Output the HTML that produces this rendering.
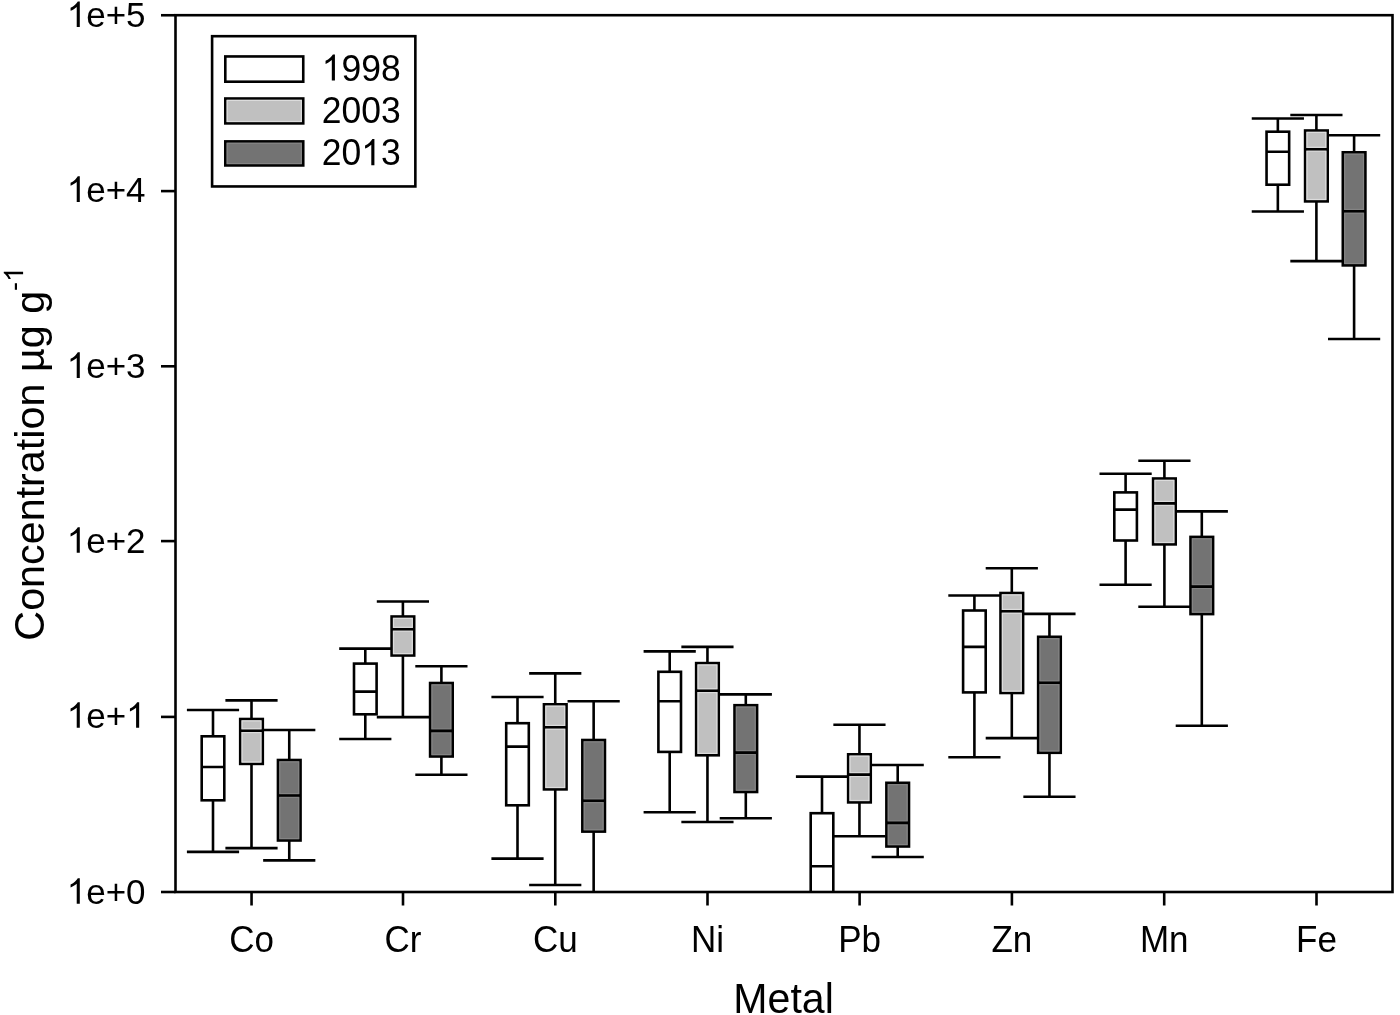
<!DOCTYPE html>
<html><head><meta charset="utf-8"><style>
html,body{margin:0;padding:0;background:#fff;}
body{width:1400px;height:1015px;overflow:hidden;}
svg{display:block;filter:grayscale(1);}
text{font-family:"Liberation Sans",sans-serif;fill:#000;}
</style></head><body>
<svg width="1400" height="1015" viewBox="0 0 1400 1015">
<defs><clipPath id="pc"><rect x="175.5" y="15.2" width="1217" height="876.8"/></clipPath></defs>
<rect width="1400" height="1015" fill="#fff"/>
<g clip-path="url(#pc)" stroke="#000" stroke-width="2.6" fill="none">
<line x1="213" y1="710" x2="213" y2="736.3"/>
<line x1="213" y1="800.3" x2="213" y2="851.9"/>
<line x1="186.9" y1="710" x2="239.1" y2="710"/>
<line x1="186.9" y1="851.9" x2="239.1" y2="851.9"/>
<rect x="201.7" y="736.3" width="22.6" height="64" fill="#ffffff"/>
<line x1="201.7" y1="767" x2="224.3" y2="767"/>
<line x1="251.5" y1="700.4" x2="251.5" y2="719"/>
<line x1="251.5" y1="763.9" x2="251.5" y2="848.1"/>
<line x1="225.4" y1="700.4" x2="277.6" y2="700.4"/>
<line x1="225.4" y1="848.1" x2="277.6" y2="848.1"/>
<rect x="240.2" y="719" width="22.6" height="44.9" fill="#c0c0c0"/>
<rect x="242.1" y="720.9" width="18.8" height="7.9" stroke="#dcdcdc" stroke-width="1.2"/>
<rect x="242.1" y="732.6" width="18.8" height="29.4" stroke="#dcdcdc" stroke-width="1.2"/>
<line x1="240.2" y1="730.7" x2="262.8" y2="730.7"/>
<line x1="289.25" y1="730" x2="289.25" y2="760"/>
<line x1="289.25" y1="840.5" x2="289.25" y2="860.4"/>
<line x1="263.15" y1="730" x2="315.35" y2="730"/>
<line x1="263.15" y1="860.4" x2="315.35" y2="860.4"/>
<rect x="277.95" y="760" width="22.6" height="80.5" fill="#737373"/>
<rect x="279.85" y="761.9" width="18.8" height="31.7" stroke="#848484" stroke-width="1.2"/>
<rect x="279.85" y="797.4" width="18.8" height="41.2" stroke="#848484" stroke-width="1.2"/>
<line x1="277.95" y1="795.5" x2="300.55" y2="795.5"/>
<line x1="365.3" y1="648.6" x2="365.3" y2="663.6"/>
<line x1="365.3" y1="714.3" x2="365.3" y2="739"/>
<line x1="339.2" y1="648.6" x2="391.4" y2="648.6"/>
<line x1="339.2" y1="739" x2="391.4" y2="739"/>
<rect x="354" y="663.6" width="22.6" height="50.7" fill="#ffffff"/>
<line x1="354" y1="691.6" x2="376.6" y2="691.6"/>
<line x1="402.9" y1="601.5" x2="402.9" y2="616.5"/>
<line x1="402.9" y1="655.5" x2="402.9" y2="717.1"/>
<line x1="376.8" y1="601.5" x2="429" y2="601.5"/>
<line x1="376.8" y1="717.1" x2="429" y2="717.1"/>
<rect x="391.6" y="616.5" width="22.6" height="39" fill="#c0c0c0"/>
<rect x="393.5" y="618.4" width="18.8" height="8.9" stroke="#dcdcdc" stroke-width="1.2"/>
<rect x="393.5" y="631.1" width="18.8" height="22.5" stroke="#dcdcdc" stroke-width="1.2"/>
<line x1="391.6" y1="629.2" x2="414.2" y2="629.2"/>
<line x1="441.4" y1="666.2" x2="441.4" y2="683"/>
<line x1="441.4" y1="756.5" x2="441.4" y2="774.8"/>
<line x1="415.3" y1="666.2" x2="467.5" y2="666.2"/>
<line x1="415.3" y1="774.8" x2="467.5" y2="774.8"/>
<rect x="430.1" y="683" width="22.6" height="73.5" fill="#737373"/>
<rect x="432" y="684.9" width="18.8" height="44.1" stroke="#848484" stroke-width="1.2"/>
<rect x="432" y="732.8" width="18.8" height="21.8" stroke="#848484" stroke-width="1.2"/>
<line x1="430.1" y1="730.9" x2="452.7" y2="730.9"/>
<line x1="517.5" y1="697" x2="517.5" y2="723.2"/>
<line x1="517.5" y1="805.3" x2="517.5" y2="858.6"/>
<line x1="491.4" y1="697" x2="543.6" y2="697"/>
<line x1="491.4" y1="858.6" x2="543.6" y2="858.6"/>
<rect x="506.2" y="723.2" width="22.6" height="82.1" fill="#ffffff"/>
<line x1="506.2" y1="746.6" x2="528.8" y2="746.6"/>
<line x1="555.25" y1="673.4" x2="555.25" y2="704.3"/>
<line x1="555.25" y1="789.4" x2="555.25" y2="885"/>
<line x1="529.15" y1="673.4" x2="581.35" y2="673.4"/>
<line x1="529.15" y1="885" x2="581.35" y2="885"/>
<rect x="543.95" y="704.3" width="22.6" height="85.1" fill="#c0c0c0"/>
<rect x="545.85" y="706.2" width="18.8" height="19.2" stroke="#dcdcdc" stroke-width="1.2"/>
<rect x="545.85" y="729.2" width="18.8" height="58.3" stroke="#dcdcdc" stroke-width="1.2"/>
<line x1="543.95" y1="727.3" x2="566.55" y2="727.3"/>
<line x1="593.65" y1="701.3" x2="593.65" y2="740"/>
<line x1="593.65" y1="831.6" x2="593.65" y2="920"/>
<line x1="567.55" y1="701.3" x2="619.75" y2="701.3"/>
<line x1="567.55" y1="920" x2="619.75" y2="920"/>
<rect x="582.35" y="740" width="22.6" height="91.6" fill="#737373"/>
<rect x="584.25" y="741.9" width="18.8" height="57" stroke="#848484" stroke-width="1.2"/>
<rect x="584.25" y="802.7" width="18.8" height="27" stroke="#848484" stroke-width="1.2"/>
<line x1="582.35" y1="800.8" x2="604.95" y2="800.8"/>
<line x1="669.7" y1="651.4" x2="669.7" y2="671.8"/>
<line x1="669.7" y1="751.9" x2="669.7" y2="812.3"/>
<line x1="643.6" y1="651.4" x2="695.8" y2="651.4"/>
<line x1="643.6" y1="812.3" x2="695.8" y2="812.3"/>
<rect x="658.4" y="671.8" width="22.6" height="80.1" fill="#ffffff"/>
<line x1="658.4" y1="701.2" x2="681" y2="701.2"/>
<line x1="707.45" y1="646.9" x2="707.45" y2="663.1"/>
<line x1="707.45" y1="755.3" x2="707.45" y2="822"/>
<line x1="681.35" y1="646.9" x2="733.55" y2="646.9"/>
<line x1="681.35" y1="822" x2="733.55" y2="822"/>
<rect x="696.15" y="663.1" width="22.6" height="92.2" fill="#c0c0c0"/>
<rect x="698.05" y="665" width="18.8" height="23.8" stroke="#dcdcdc" stroke-width="1.2"/>
<rect x="698.05" y="692.6" width="18.8" height="60.8" stroke="#dcdcdc" stroke-width="1.2"/>
<line x1="696.15" y1="690.7" x2="718.75" y2="690.7"/>
<line x1="745.8" y1="694.4" x2="745.8" y2="705.2"/>
<line x1="745.8" y1="792" x2="745.8" y2="818.3"/>
<line x1="719.7" y1="694.4" x2="771.9" y2="694.4"/>
<line x1="719.7" y1="818.3" x2="771.9" y2="818.3"/>
<rect x="734.5" y="705.2" width="22.6" height="86.8" fill="#737373"/>
<rect x="736.4" y="707.1" width="18.8" height="43.6" stroke="#848484" stroke-width="1.2"/>
<rect x="736.4" y="754.5" width="18.8" height="35.6" stroke="#848484" stroke-width="1.2"/>
<line x1="734.5" y1="752.6" x2="757.1" y2="752.6"/>
<line x1="822" y1="776.6" x2="822" y2="813.2"/>
<line x1="822" y1="910" x2="822" y2="930"/>
<line x1="795.9" y1="776.6" x2="848.1" y2="776.6"/>
<line x1="795.9" y1="930" x2="848.1" y2="930"/>
<rect x="810.7" y="813.2" width="22.6" height="96.8" fill="#ffffff"/>
<line x1="810.7" y1="866.3" x2="833.3" y2="866.3"/>
<line x1="859.45" y1="724.8" x2="859.45" y2="754.3"/>
<line x1="859.45" y1="802.4" x2="859.45" y2="836.2"/>
<line x1="833.35" y1="724.8" x2="885.55" y2="724.8"/>
<line x1="833.35" y1="836.2" x2="885.55" y2="836.2"/>
<rect x="848.15" y="754.3" width="22.6" height="48.1" fill="#c0c0c0"/>
<rect x="850.05" y="756.2" width="18.8" height="16.5" stroke="#dcdcdc" stroke-width="1.2"/>
<rect x="850.05" y="776.5" width="18.8" height="24" stroke="#dcdcdc" stroke-width="1.2"/>
<line x1="848.15" y1="774.6" x2="870.75" y2="774.6"/>
<line x1="897.7" y1="765" x2="897.7" y2="782.8"/>
<line x1="897.7" y1="846.5" x2="897.7" y2="857"/>
<line x1="871.6" y1="765" x2="923.8" y2="765"/>
<line x1="871.6" y1="857" x2="923.8" y2="857"/>
<rect x="886.4" y="782.8" width="22.6" height="63.7" fill="#737373"/>
<rect x="888.3" y="784.7" width="18.8" height="36.3" stroke="#848484" stroke-width="1.2"/>
<rect x="888.3" y="824.8" width="18.8" height="19.8" stroke="#848484" stroke-width="1.2"/>
<line x1="886.4" y1="822.9" x2="909" y2="822.9"/>
<line x1="974.4" y1="595.5" x2="974.4" y2="610.5"/>
<line x1="974.4" y1="692.4" x2="974.4" y2="757.3"/>
<line x1="948.3" y1="595.5" x2="1000.5" y2="595.5"/>
<line x1="948.3" y1="757.3" x2="1000.5" y2="757.3"/>
<rect x="963.1" y="610.5" width="22.6" height="81.9" fill="#ffffff"/>
<line x1="963.1" y1="646.9" x2="985.7" y2="646.9"/>
<line x1="1011.8" y1="568.3" x2="1011.8" y2="593"/>
<line x1="1011.8" y1="693" x2="1011.8" y2="738.1"/>
<line x1="985.7" y1="568.3" x2="1037.9" y2="568.3"/>
<line x1="985.7" y1="738.1" x2="1037.9" y2="738.1"/>
<rect x="1000.5" y="593" width="22.6" height="100" fill="#c0c0c0"/>
<rect x="1002.4" y="594.9" width="18.8" height="14.5" stroke="#dcdcdc" stroke-width="1.2"/>
<rect x="1002.4" y="613.2" width="18.8" height="77.9" stroke="#dcdcdc" stroke-width="1.2"/>
<line x1="1000.5" y1="611.3" x2="1023.1" y2="611.3"/>
<line x1="1049.45" y1="613.9" x2="1049.45" y2="636.8"/>
<line x1="1049.45" y1="752.8" x2="1049.45" y2="796.8"/>
<line x1="1023.35" y1="613.9" x2="1075.55" y2="613.9"/>
<line x1="1023.35" y1="796.8" x2="1075.55" y2="796.8"/>
<rect x="1038.15" y="636.8" width="22.6" height="116" fill="#737373"/>
<rect x="1040.05" y="638.7" width="18.8" height="42.2" stroke="#848484" stroke-width="1.2"/>
<rect x="1040.05" y="684.7" width="18.8" height="66.2" stroke="#848484" stroke-width="1.2"/>
<line x1="1038.15" y1="682.8" x2="1060.75" y2="682.8"/>
<line x1="1125.6" y1="473.8" x2="1125.6" y2="492.4"/>
<line x1="1125.6" y1="540.5" x2="1125.6" y2="584.8"/>
<line x1="1099.5" y1="473.8" x2="1151.7" y2="473.8"/>
<line x1="1099.5" y1="584.8" x2="1151.7" y2="584.8"/>
<rect x="1114.3" y="492.4" width="22.6" height="48.1" fill="#ffffff"/>
<line x1="1114.3" y1="509.6" x2="1136.9" y2="509.6"/>
<line x1="1164.4" y1="460.8" x2="1164.4" y2="478.5"/>
<line x1="1164.4" y1="544.4" x2="1164.4" y2="606.8"/>
<line x1="1138.3" y1="460.8" x2="1190.5" y2="460.8"/>
<line x1="1138.3" y1="606.8" x2="1190.5" y2="606.8"/>
<rect x="1153.1" y="478.5" width="22.6" height="65.9" fill="#c0c0c0"/>
<rect x="1155" y="480.4" width="18.8" height="21.1" stroke="#dcdcdc" stroke-width="1.2"/>
<rect x="1155" y="505.3" width="18.8" height="37.2" stroke="#dcdcdc" stroke-width="1.2"/>
<line x1="1153.1" y1="503.4" x2="1175.7" y2="503.4"/>
<line x1="1201.8" y1="511.4" x2="1201.8" y2="536.9"/>
<line x1="1201.8" y1="614.1" x2="1201.8" y2="725.7"/>
<line x1="1175.7" y1="511.4" x2="1227.9" y2="511.4"/>
<line x1="1175.7" y1="725.7" x2="1227.9" y2="725.7"/>
<rect x="1190.5" y="536.9" width="22.6" height="77.2" fill="#737373"/>
<rect x="1192.4" y="538.8" width="18.8" height="45.9" stroke="#848484" stroke-width="1.2"/>
<rect x="1192.4" y="588.5" width="18.8" height="23.7" stroke="#848484" stroke-width="1.2"/>
<line x1="1190.5" y1="586.6" x2="1213.1" y2="586.6"/>
<line x1="1277.85" y1="118.5" x2="1277.85" y2="131.7"/>
<line x1="1277.85" y1="184.7" x2="1277.85" y2="211.5"/>
<line x1="1251.75" y1="118.5" x2="1303.95" y2="118.5"/>
<line x1="1251.75" y1="211.5" x2="1303.95" y2="211.5"/>
<rect x="1266.55" y="131.7" width="22.6" height="53" fill="#ffffff"/>
<line x1="1266.55" y1="151.7" x2="1289.15" y2="151.7"/>
<line x1="1316.4" y1="115" x2="1316.4" y2="130.5"/>
<line x1="1316.4" y1="201.4" x2="1316.4" y2="261.1"/>
<line x1="1290.3" y1="115" x2="1342.5" y2="115"/>
<line x1="1290.3" y1="261.1" x2="1342.5" y2="261.1"/>
<rect x="1305.1" y="130.5" width="22.6" height="70.9" fill="#c0c0c0"/>
<rect x="1307" y="132.4" width="18.8" height="14.9" stroke="#dcdcdc" stroke-width="1.2"/>
<rect x="1307" y="151.1" width="18.8" height="48.4" stroke="#dcdcdc" stroke-width="1.2"/>
<line x1="1305.1" y1="149.2" x2="1327.7" y2="149.2"/>
<line x1="1354.1" y1="135.2" x2="1354.1" y2="152.3"/>
<line x1="1354.1" y1="265.4" x2="1354.1" y2="339"/>
<line x1="1328" y1="135.2" x2="1380.2" y2="135.2"/>
<line x1="1328" y1="339" x2="1380.2" y2="339"/>
<rect x="1342.8" y="152.3" width="22.6" height="113.1" fill="#737373"/>
<rect x="1344.7" y="154.2" width="18.8" height="55.2" stroke="#848484" stroke-width="1.2"/>
<rect x="1344.7" y="213.2" width="18.8" height="50.3" stroke="#848484" stroke-width="1.2"/>
<line x1="1342.8" y1="211.3" x2="1365.4" y2="211.3"/>
</g>
<g stroke="#000" stroke-width="2.6" fill="none">
<rect x="175.5" y="15.2" width="1217" height="876.8"/>
<line x1="161" y1="892" x2="175.5" y2="892"/>
<line x1="161" y1="716.9" x2="175.5" y2="716.9"/>
<line x1="161" y1="541.1" x2="175.5" y2="541.1"/>
<line x1="161" y1="366.3" x2="175.5" y2="366.3"/>
<line x1="161" y1="191.1" x2="175.5" y2="191.1"/>
<line x1="161" y1="15.25" x2="175.5" y2="15.25"/>
<line x1="251.55" y1="892" x2="251.55" y2="905.5"/>
<line x1="403" y1="892" x2="403" y2="905.5"/>
<line x1="555.3" y1="892" x2="555.3" y2="905.5"/>
<line x1="707.5" y1="892" x2="707.5" y2="905.5"/>
<line x1="859.6" y1="892" x2="859.6" y2="905.5"/>
<line x1="1011.9" y1="892" x2="1011.9" y2="905.5"/>
<line x1="1164.2" y1="892" x2="1164.2" y2="905.5"/>
<line x1="1316.5" y1="892" x2="1316.5" y2="905.5"/>
</g>
<g stroke="#000" stroke-width="2.6">
<rect x="212.1" y="36.2" width="203.25" height="150.25" fill="#fff"/>
<rect x="225.3" y="56.45" width="77.95" height="25.25" fill="#ffffff"/>
<rect x="225.3" y="98.5" width="77.95" height="24.9" fill="#c0c0c0"/>
<rect x="227.2" y="100.4" width="74.15" height="21.1" fill="none" stroke="#dcdcdc" stroke-width="1.2"/>
<rect x="225.3" y="141.4" width="77.95" height="24.05" fill="#737373"/>
<rect x="227.2" y="143.3" width="74.15" height="20.25" fill="none" stroke="#848484" stroke-width="1.2"/>
</g>
<path transform="translate(321.7,80.6) scale(0.017334,-0.017854)" d="M763,0L583,0L583,1147C540,1106 483,1065 413,1024C342,983 279,952 223,931L223,1105C324,1152 412,1210 487,1277C562,1344 615,1409 646,1466L763,1466Z"/>
<text transform="translate(341.44,80.6) scale(1,1.03)" font-size="35.5" text-anchor="start">998</text>
<text transform="translate(321.7,122.9) scale(1,1.03)" font-size="35.5" text-anchor="start">2003</text>
<text transform="translate(321.7,165.2) scale(1,1.03)" font-size="35.5" text-anchor="start">20</text>
<path transform="translate(361.19,165.2) scale(0.017334,-0.017854)" d="M763,0L583,0L583,1147C540,1106 483,1065 413,1024C342,983 279,952 223,931L223,1105C324,1152 412,1210 487,1277C562,1344 615,1409 646,1466L763,1466Z"/>
<text transform="translate(380.93,165.2) scale(1,1.03)" font-size="35.5" text-anchor="start">3</text>
<path transform="translate(66.76,903.7) scale(0.017090,-0.017432)" d="M763,0L583,0L583,1147C540,1106 483,1065 413,1024C342,983 279,952 223,931L223,1105C324,1152 412,1210 487,1277C562,1344 615,1409 646,1466L763,1466Z"/>
<text transform="translate(145.6,903.7) scale(1,1.02)" font-size="35" text-anchor="end">e+0</text>
<path transform="translate(66.76,727.7) scale(0.017090,-0.017432)" d="M763,0L583,0L583,1147C540,1106 483,1065 413,1024C342,983 279,952 223,931L223,1105C324,1152 412,1210 487,1277C562,1344 615,1409 646,1466L763,1466Z"/>
<text transform="translate(126.13,727.7) scale(1,1.02)" font-size="35" text-anchor="end">e+</text>
<path transform="translate(126.13,727.7) scale(0.017090,-0.017432)" d="M763,0L583,0L583,1147C540,1106 483,1065 413,1024C342,983 279,952 223,931L223,1105C324,1152 412,1210 487,1277C562,1344 615,1409 646,1466L763,1466Z"/>
<path transform="translate(66.76,552.7) scale(0.017090,-0.017432)" d="M763,0L583,0L583,1147C540,1106 483,1065 413,1024C342,983 279,952 223,931L223,1105C324,1152 412,1210 487,1277C562,1344 615,1409 646,1466L763,1466Z"/>
<text transform="translate(145.6,552.7) scale(1,1.02)" font-size="35" text-anchor="end">e+2</text>
<path transform="translate(66.76,377.9) scale(0.017090,-0.017432)" d="M763,0L583,0L583,1147C540,1106 483,1065 413,1024C342,983 279,952 223,931L223,1105C324,1152 412,1210 487,1277C562,1344 615,1409 646,1466L763,1466Z"/>
<text transform="translate(145.6,377.9) scale(1,1.02)" font-size="35" text-anchor="end">e+3</text>
<path transform="translate(66.76,201.9) scale(0.017090,-0.017432)" d="M763,0L583,0L583,1147C540,1106 483,1065 413,1024C342,983 279,952 223,931L223,1105C324,1152 412,1210 487,1277C562,1344 615,1409 646,1466L763,1466Z"/>
<text transform="translate(145.6,201.9) scale(1,1.02)" font-size="35" text-anchor="end">e+4</text>
<path transform="translate(66.76,27) scale(0.017090,-0.017432)" d="M763,0L583,0L583,1147C540,1106 483,1065 413,1024C342,983 279,952 223,931L223,1105C324,1152 412,1210 487,1277C562,1344 615,1409 646,1466L763,1466Z"/>
<text transform="translate(145.6,27) scale(1,1.02)" font-size="35" text-anchor="end">e+5</text>
<text transform="translate(251.55,952.4) scale(1,1.04)" font-size="35" text-anchor="middle">Co</text>
<text transform="translate(403,952.4) scale(1,1.04)" font-size="35" text-anchor="middle">Cr</text>
<text transform="translate(555.3,952.4) scale(1,1.04)" font-size="35" text-anchor="middle">Cu</text>
<text transform="translate(707.5,952.4) scale(1,1.04)" font-size="35" text-anchor="middle">Ni</text>
<text transform="translate(859.6,952.4) scale(1,1.04)" font-size="35" text-anchor="middle">Pb</text>
<text transform="translate(1011.9,952.4) scale(1,1.04)" font-size="35" text-anchor="middle">Zn</text>
<text transform="translate(1164.2,952.4) scale(1,1.04)" font-size="35" text-anchor="middle">Mn</text>
<text transform="translate(1316.5,952.4) scale(1,1.04)" font-size="35" text-anchor="middle">Fe</text>
<text transform="translate(783.6,1013.1) scale(1,1.035)" font-size="41.1" text-anchor="middle">Metal</text>
<text transform="translate(43.7,640.7) rotate(-90) scale(1,1.045)" font-size="41.3">C</text>
<text transform="translate(43.7,640.7) rotate(-90)" font-size="41.3" x="29.83">oncentration µg g<tspan dy="-20.6" font-size="27">-</tspan></text>
<path transform="translate(43.7,640.7) rotate(-90) translate(358.81,-20.6) scale(0.013184,-0.013184)" d="M763,0L583,0L583,1147C540,1106 483,1065 413,1024C342,983 279,952 223,931L223,1105C324,1152 412,1210 487,1277C562,1344 615,1409 646,1466L763,1466Z"/>
</svg>
</body></html>
